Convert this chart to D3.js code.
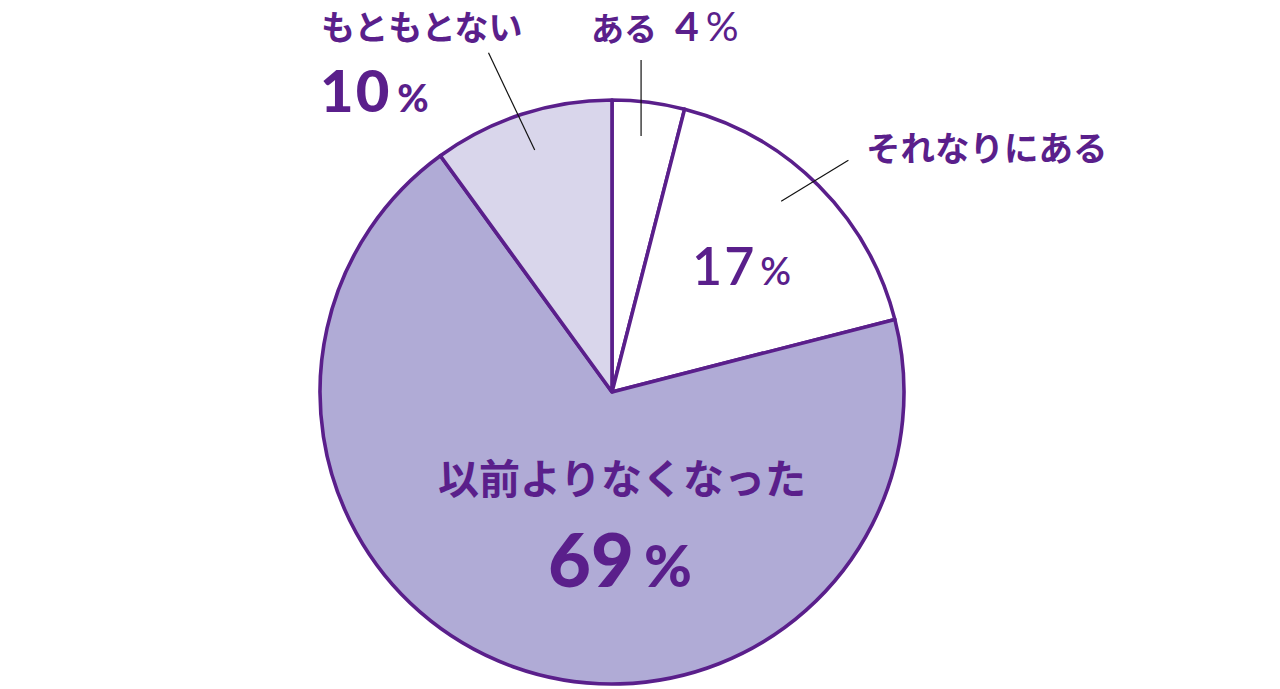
<!DOCTYPE html>
<html>
<head>
<meta charset="utf-8">
<script src="https://cdn.jsdelivr.net/npm/d3@7"></script>
<style>
  body { margin: 0; background: #fff; }
  svg { display: block; }
  text { font-family: "Noto Sans CJK JP", "Noto Sans", sans-serif; fill: #5a1f8b; }
  .num { font-family: Lato, "Noto Sans", sans-serif; }
</style>
</head>
<body>
<svg id="chart" width="1280" height="689"></svg>
<script>
// slice data, clockwise from 12 o'clock
const categories = ["ある", "それなりにある", "以前よりなくなった", "もともとない"];
const values = [4, 17, 69, 10];
const fills = ["#ffffff", "#ffffff", "#b0abd6", "#d9d6eb"];

const svg = d3.select("#chart");
const cx = 612, cy = 392, radius = 292;
const purple = "#5a1f8b";

const pie = d3.pie().value(d => d).sort(null);
const arcs = pie(values);
const arc = d3.arc().innerRadius(0).outerRadius(radius);

const g = svg.append("g").attr("transform", "translate(" + cx + "," + cy + ")");

g.selectAll("path").data(arcs).enter().append("path")
  .attr("d", arc)
  .attr("fill", (d, i) => fills[i])
  .attr("stroke", purple)
  .attr("stroke-width", 3.6)
  .attr("stroke-linejoin", "round");

// polar helper (angle clockwise from top)
function polar(a, r) { return [r * Math.sin(a), -r * Math.cos(a)]; }
function mid(d) { return (d.startAngle + d.endAngle) / 2; }

// leader lines
const leaders = g.append("g").attr("stroke", "#111").attr("stroke-width", 1.2);
let p = polar(mid(arcs[0]), 232);
leaders.append("line").attr("x1", p[0]).attr("x2", p[0]).attr("y1", -332).attr("y2", -256);
let a1 = polar(mid(arcs[1]) - 0.06, 255), a2 = polar(mid(arcs[1]) + 0.01, 331);
leaders.append("line").attr("x1", a1[0]).attr("y1", a1[1]).attr("x2", a2[0]).attr("y2", a2[1]);
let b1 = polar(mid(arcs[3]) + 0.005, 254), b2 = polar(mid(arcs[3]) - 0.035, 361);
leaders.append("line").attr("x1", b1[0]).attr("y1", b1[1]).attr("x2", b2[0]).attr("y2", b2[1]);

// number + smaller percent sign
function pct(sel, v, numSize, pctSize, weight, gap, spacing) {
  sel.append("tspan").attr("class", "num").attr("font-size", numSize).attr("font-weight", weight)
    .attr("letter-spacing", spacing).text(v);
  sel.append("tspan").attr("class", "num").attr("font-size", pctSize).attr("font-weight", weight)
    .attr("dx", gap).attr("letter-spacing", 0).text("%");
}

// ある 4%
let t0 = svg.append("text").attr("x", 591).attr("y", 41);
t0.append("tspan").attr("font-size", 33).attr("font-weight", 700).text(categories[0]);
let t0n = t0.append("tspan").attr("dx", 18);
t0n.append("tspan").attr("class", "num").attr("font-size", 41).attr("font-weight", 700).text(values[0]);
t0n.append("tspan").attr("class", "num").attr("dx", 7).attr("font-size", 41).attr("font-weight", 400).text("%");

// それなりにある + 17%
svg.append("text").attr("x", 866).attr("y", 161).attr("font-size", 34.5).attr("font-weight", 700)
  .text(categories[1]);
let t1 = svg.append("text").attr("x", 692).attr("y", 285);
pct(t1, values[1], 52, 38, 600, 4, 2);

// 以前よりなくなった + 69%
svg.append("text").attr("x", 622).attr("y", 494).attr("text-anchor", "middle")
  .attr("font-size", 41).attr("font-weight", 700).text(categories[2]);
let t2 = svg.append("text").attr("x", 620).attr("y", 587).attr("text-anchor", "middle");
pct(t2, values[2], 74, 58, 900, 10, 0);

// もともとない + 10%
svg.append("text").attr("x", 321).attr("y", 40).attr("font-size", 34).attr("font-weight", 700)
  .text(categories[3]);
let t3 = svg.append("text").attr("x", 320).attr("y", 112);
pct(t3, values[3], 58, 38, 900, 6, 2);
</script>
</body>
</html>
